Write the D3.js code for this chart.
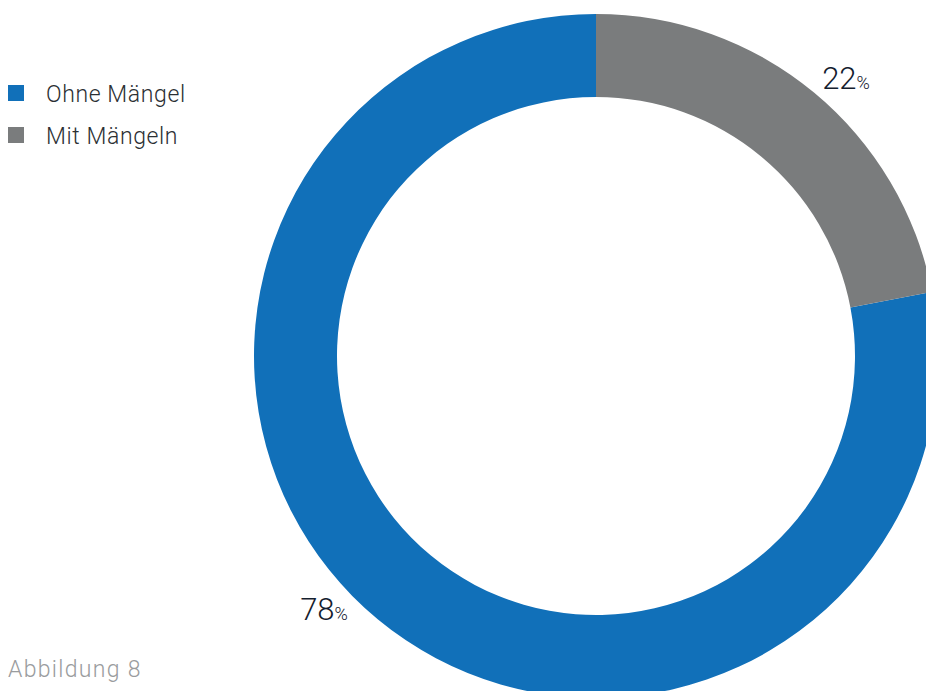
<!DOCTYPE html>
<html>
<head>
<meta charset="utf-8">
<script src="https://cdn.jsdelivr.net/npm/d3@7"></script>
<style>
  html, body { margin: 0; padding: 0; background: #fff; overflow: hidden; }
  svg { display: block; font-family: Roboto, 'Noto Sans', sans-serif; }
</style>
</head>
<body>
<div id="chart"></div>
<script>
// chart data
const categories = ['Ohne Mängel', 'Mit Mängeln'];
const shares = [78, 22];
const colors = ['#1170b9', '#7a7c7d'];
const caption = 'Abbildung 8';

const width = 926;
const height = 691;
const cx = 596;
const cy = 356;
const outerR = 342;
const innerR = 259;

const svg = d3.select('#chart').append('svg')
  .attr('width', width)
  .attr('height', height);

// gray slice starts at 12 o'clock, blue follows clockwise
const offset = (shares[0] / 100) * 2 * Math.PI;
const pie = d3.pie()
  .sort(null)
  .value(d => d.value)
  .startAngle(-offset)
  .endAngle(2 * Math.PI - offset);

const data = categories.map((c, i) => ({ name: c, value: shares[i], color: colors[i] }));
const arcs = pie(data);

const arc = d3.arc().innerRadius(innerR).outerRadius(outerR);

const g = svg.append('g').attr('transform', `translate(${cx},${cy})`);

g.selectAll('path')
  .data(arcs)
  .enter()
  .append('path')
  .attr('d', arc)
  .attr('fill', d => d.data.color);

// percentage labels sit just outside the ring
const labelPos = [[-272, 264], [250, -267]];

const labels = g.selectAll('text.pct')
  .data(arcs)
  .enter()
  .append('text')
  .attr('class', 'pct')
  .attr('x', (d, i) => labelPos[i][0])
  .attr('y', (d, i) => labelPos[i][1])
  .attr('text-anchor', 'middle')
  .attr('fill', '#14202e');

labels.append('tspan')
  .attr('font-size', 31)
  .attr('font-weight', 300)
  .text(d => d.data.value);
labels.append('tspan')
  .attr('font-size', 18)
  .attr('font-weight', 300)
  .text('%');

// legend
const legend = svg.append('g').attr('transform', 'translate(8,85)');
const item = legend.selectAll('g')
  .data(data)
  .enter()
  .append('g')
  .attr('transform', (d, i) => `translate(0,${i * 42})`);

item.append('rect')
  .attr('width', 16)
  .attr('height', 16)
  .attr('fill', d => d.color);

item.append('text')
  .attr('x', 38)
  .attr('y', 17)
  .attr('font-size', 23)
  .attr('font-weight', 300)
  .attr('letter-spacing', 0.6)
  .attr('fill', '#2b2f33')
  .text(d => d.name);

svg.append('text')
  .attr('x', 8)
  .attr('y', 677)
  .attr('font-size', 23)
  .attr('font-weight', 300)
  .attr('letter-spacing', 1.3)
  .attr('fill', '#9a9c9e')
  .text(caption);
</script>
</body>
</html>
